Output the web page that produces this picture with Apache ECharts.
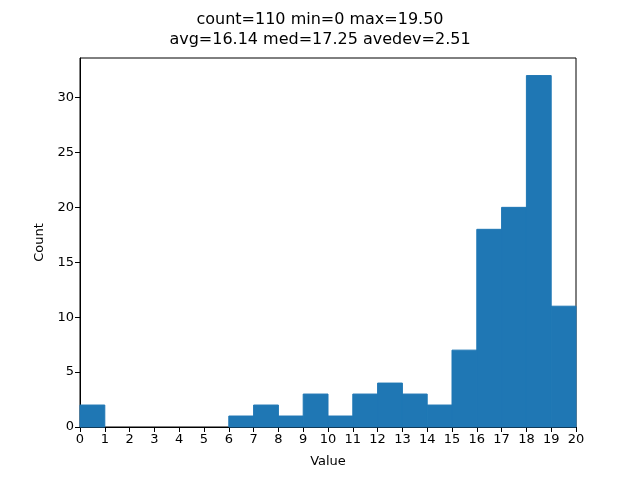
<!DOCTYPE html>
<html>
<head>
<meta charset="utf-8">
<script src="https://cdn.jsdelivr.net/npm/echarts@6/dist/echarts.min.js"></script>
<style>html,body{margin:0;padding:0;background:#fff}#c{width:640px;height:480px}</style>
</head>
<body>
<div id="c"></div>
<script>
const binStarts = [0,1,2,3,4,5,6,7,8,9,10,11,12,13,14,15,16,17,18,19];
const binWidth = 1;
const counts = [2,0,0,0,0,0,1,2,1,3,1,3,4,3,2,7,18,20,32,11];
const titleLines = ['count=110 min=0 max=19.50', 'avg=16.14 med=17.25 avedev=2.51'];

const data = binStarts.map((s, i) => [s, s + binWidth, counts[i]]);
const chart = echarts.init(document.getElementById('c'));
const font = 'DejaVu Sans';
chart.setOption({
  animation: false,
  title: {
    text: titleLines.join('\n'),
    left: 'center', top: 5,
    textStyle: {fontFamily: font, fontSize: 16, fontWeight: 'normal', color: '#000', lineHeight: 20}
  },
  grid: {left: 80, right: 64, top: 58, bottom: 53, show: true, borderColor: '#000', borderWidth: 1, backgroundColor: 'transparent'},
  xAxis: {
    type: 'value', min: 0, max: 20, interval: 1,
    name: 'Value', nameLocation: 'middle', nameGap: 28,
    nameTextStyle: {fontFamily: font, fontSize: 13, color: '#000'},
    axisLine: {show: true, lineStyle: {color: '#000'}},
    axisTick: {show: true, length: 5, inside: false, lineStyle: {color: '#000'}},
    axisLabel: {fontFamily: font, fontSize: 13, color: '#000', margin: 6},
    splitLine: {show: false}
  },
  yAxis: {
    type: 'value', min: 0, max: 33.6, interval: 5,
    name: 'Count', nameLocation: 'middle', nameGap: 33,
    nameTextStyle: {fontFamily: font, fontSize: 13, color: '#000'},
    axisLine: {show: true, lineStyle: {color: '#000'}},
    axisTick: {show: true, length: 5, lineStyle: {color: '#000'}},
    axisLabel: {fontFamily: font, fontSize: 13, color: '#000', margin: 6, showMaxLabel: false},
    splitLine: {show: false}
  },
  series: [{
    type: 'custom',
    data: data,
    encode: {x: [0, 1], y: 2},
    z: 1,
    renderItem: function (params, api) {
      if (api.value(2) <= 0) return null;
      const p0 = api.coord([api.value(0), 0]);
      const p1 = api.coord([api.value(1), api.value(2)]);
      return {
        type: 'rect',
        shape: {x: p0[0], y: p1[1], width: p1[0] - p0[0], height: p0[1] - p1[1]},
        style: {fill: '#1f77b4', stroke: '#1f77b4', lineWidth: 1}
      };
    }
  }]
});
</script>
</body>
</html>
